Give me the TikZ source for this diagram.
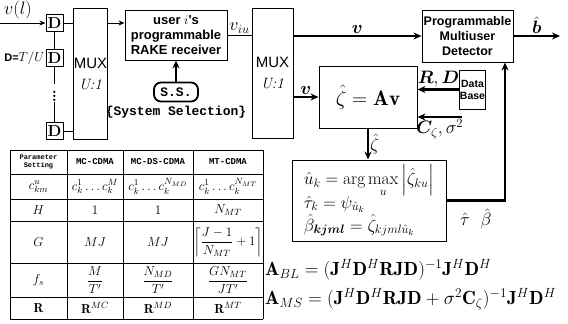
\RequirePackage{fix-cm}
\documentclass[tikz,border=0pt]{standalone}
\usepackage{amsmath}
\usepackage{bm}
\usepackage{fontspec}
\newfontfamily\sansfam{Liberation Sans}
\newfontfamily\monofam{Liberation Mono}
\usetikzlibrary{arrows.meta, positioning}
\newcommand{\boxfont}{\sansfam\bfseries\fontsize{13}{15}\selectfont}
\newcommand{\lblfont}{\fontsize{18}{20}\selectfont}

\begin{document}
\begin{tikzpicture}[x=1pt, y=-1pt,
    blk/.style={draw, line width=1pt, inner sep=0pt, align=center},
    dbox/.style={blk, minimum width=17pt, minimum height=17pt, font=\bfseries\fontsize{16}{16}\selectfont},
    muxbox/.style={blk, line width=0.7pt, font=\sansfam\fontsize{15}{21}\selectfont},
    thinarr/.style={-{Stealth[length=6pt, width=5pt]}, line width=0.8pt},
    bigarr/.style={-{Stealth[length=8pt, width=7pt]}, line width=2.2pt},
    lbl/.style={font=\lblfont, inner sep=1pt},
    tabline/.style={line width=0.8pt},
    cell/.style={font=\fontsize{13}{15}\selectfont, inner sep=0pt},
    hdr/.style={font=\monofam\bfseries\fontsize{9}{10}\selectfont, inner sep=0pt, align=center}
]
    \useasboundingbox (0,0) rectangle (568,324);

    \node[dbox] (d1) at (54.5,23) {D};
    \node[dbox] (d2) at (54.5,58) {D};
    \node[dbox] (d3) at (54.5,131) {D};
    \node[font=\bfseries\fontsize{16}{16}\selectfont, inner sep=1pt] (dots) at (54.5,93) {$\vdots$};
    \draw[line width=0.8pt] (d1) -- (d2);
    \draw[line width=0.8pt] (d2) -- (dots);
    \draw[line width=0.8pt] (dots) -- (d3);

    \coordinate (vin) at (0,23);
    \node[lbl] (vl) at (18,10) {$v(l)$};
    \draw[thinarr] (vin) -- (d1);
    \node[left=1pt of d2, inner sep=0pt] (dlbl) {{\sansfam\bfseries\fontsize{11}{11}\selectfont D=}{\fontsize{13}{13}\selectfont$T/U$}};

    \node[muxbox, minimum width=33pt, minimum height=131pt] (mux1) at (90.5,73.5) {MUX\\{\rmfamily\itshape U:1}};
    \draw[line width=0.8pt] (d1) -- (d1 -| mux1.west);
    \draw[line width=0.8pt] (d3) -- (d3 -| mux1.west);

    \node[blk, minimum width=102pt, minimum height=50pt, font=\boxfont] (rake) at (176,35) {user $i$'s\\programmable\\RAKE receiver};
    \draw[thinarr] (d1 -| mux1.east) -- (d1 -| rake.west);

    \node[draw, line width=1.8pt, rounded corners=7pt, minimum width=44pt, minimum height=19pt, inner sep=0pt,
          font=\monofam\bfseries\fontsize{13}{13}\selectfont] (ss) at (176,92) {S.S.};
    \node[below=3pt of ss, inner sep=0pt, font=\monofam\bfseries\fontsize{13}{13}\selectfont] (sslbl) {\{System Selection\}};
    \draw[bigarr] (ss) -- (rake);

    \node[muxbox, minimum width=41pt, minimum height=130pt] (mux2) at (272.5,73) {MUX\\{\rmfamily\itshape U:1}};
    \draw[line width=0.8pt] (rake.east) -- node[lbl, above] (viu) {$v_{iu}$} (rake.east -| mux2.west);

    \node[blk, minimum width=91pt, minimum height=52pt, font=\sansfam\bfseries\fontsize{12.5}{15}\selectfont] (mud) at (467.5,36) {Programmable\\Multiuser\\Detector};
    \draw[bigarr] (mud.west -| mux2.east) -- node[lbl, above] (vtop) {$\bm{v}$} (mud.west);
    \coordinate (bout) at (560,36);
    \draw[bigarr] (mud.east) -- node[lbl, above] (bhat) {$\hat{\bm{b}}$} (bout);

    \node[blk, minimum width=98pt, minimum height=62pt, font=\fontsize{21}{21}\selectfont] (zeta) at (368,97) {$\hat{\zeta} = \mathbf{A}\mathbf{v}$};
    \draw[bigarr] (zeta.west -| mux2.east) -- node[lbl, above] (vmid) {$\bm{v}$} (zeta.west);

    \node[blk, minimum width=25pt, minimum height=39pt, font=\sansfam\bfseries\fontsize{10.5}{12}\selectfont] (db) at (472.5,89.5) {Data\\Base};
    \draw[bigarr] (db.west) -- node[lbl, above] (rd) {$\bm{R},\bm{D}$} (db.west -| zeta.east);
    \coordinate (cin) at (462,117);
    \draw[bigarr] (cin) -- node[lbl, below] (csig) {$\bm{C}_{\zeta},\sigma^2$} (cin -| zeta.east);

    \node[blk, minimum width=154pt, minimum height=81pt, align=left, font=\fontsize{17.5}{23}\selectfont] (amax) at (369,200.5)
        {$\displaystyle\hat{u}_k = \arg\max_u \left|\hat{\zeta}_{ku}\right|$\\[-2pt]
         $\hat{\tau}_k = \psi_{\hat{u}_k}$\\
         $\hat{\beta}_{\bm{kjml}} = \hat{\zeta}_{kjml\hat{u}_k}$};
    \draw[bigarr] (zeta.south) -- node[lbl, right] (zlbl) {$\hat{\zeta}$} (zeta.south |- amax.north);
    \coordinate (fb) at (505,200.5);
    \draw[bigarr] (amax.east) -- node[lbl, below, yshift=-6pt] (tb) {$\hat{\tau}\ \ \hat{\beta}$} (fb) -- (fb |- mud.south);

    \foreach \y in {150,174,199,221,263,297,319}
        \draw[tabline] (10,\y) -- (263,\y);
    \foreach \x in {10,67,123,193,263}
        \draw[tabline] (\x,150) -- (\x,319);

    \node[hdr, font=\monofam\bfseries\fontsize{7}{8}\selectfont] (hd0) at (38.5,162) {Parameter\\Setting};
    \node[hdr] (hd1) at (95,162) {MC-CDMA};
    \node[hdr] (hd2) at (158,162) {MC-DS-CDMA};
    \node[hdr] (hd3) at (228,162) {MT-CDMA};

    \node[cell] (cr0) at (38.5,186.5) {$c^{u}_{km}$};
    \node[cell] (cr1) at (95,186.5) {$c_k^1\ldots c_k^M$};
    \node[cell] (cr2) at (158,186.5) {$c_k^1\ldots c_k^{N_{MD}}$};
    \node[cell] (cr3) at (228,186.5) {$c_k^1\ldots c_k^{N_{MT}}$};

    \node[cell] (hr0) at (38.5,210) {$H$};
    \node[cell] (hr1) at (95,210) {$1$};
    \node[cell] (hr2) at (158,210) {$1$};
    \node[cell] (hr3) at (228,210) {$N_{MT}$};

    \node[cell] (gr0) at (38.5,242) {$G$};
    \node[cell] (gr1) at (95,242) {$MJ$};
    \node[cell] (gr2) at (158,242) {$MJ$};
    \node[cell] (gr3) at (228,242) {$\left\lceil\dfrac{J-1}{N_{MT}}+1\right\rceil$};

    \node[cell] (fr0) at (38.5,280) {$f_s$};
    \node[cell] (fr1) at (95,280) {$\dfrac{M}{T'}$};
    \node[cell] (fr2) at (158,280) {$\dfrac{N_{MD}}{T'}$};
    \node[cell] (fr3) at (228,280) {$\dfrac{GN_{MT}}{JT'}$};

    \node[cell] (rr0) at (38.5,308) {$\mathbf{R}$};
    \node[cell] (rr1) at (95,308) {$\mathbf{R}^{MC}$};
    \node[cell] (rr2) at (158,308) {$\mathbf{R}^{MD}$};
    \node[cell] (rr3) at (228,308) {$\mathbf{R}^{MT}$};

    \node[anchor=west, inner sep=0pt, font=\fontsize{19}{21}\selectfont] (abl) at (265,270)
        {$\mathbf{A}_{BL} = (\mathbf{J}^H\mathbf{D}^H\mathbf{R}\mathbf{J}\mathbf{D})^{-1}\mathbf{J}^H\mathbf{D}^H$};
    \node[anchor=west, inner sep=0pt, font=\fontsize{19}{21}\selectfont] (ams) at (265,299)
        {$\mathbf{A}_{MS} = (\mathbf{J}^H\mathbf{D}^H\mathbf{R}\mathbf{J}\mathbf{D}+\sigma^2\mathbf{C}_{\zeta})^{-1}\mathbf{J}^H\mathbf{D}^H$};
\end{tikzpicture}
\end{document}
